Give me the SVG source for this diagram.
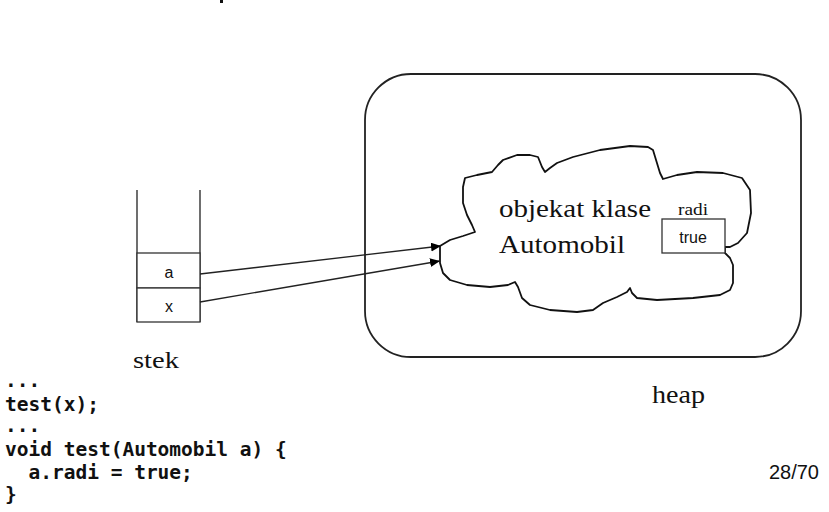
<svg xmlns="http://www.w3.org/2000/svg" width="829" height="512" viewBox="0 0 829 512">
<defs>
<style>
.serif{font-family:"Liberation Serif","Times New Roman",serif;fill:#111}
.sans{font-family:"Liberation Sans",Arial,sans-serif;fill:#111}
.code{font-family:"DejaVu Sans Mono","Liberation Mono",monospace;font-weight:bold;font-size:19.5px;fill:#111}
.ln{stroke:#222;stroke-width:1.3;fill:none}
.box{stroke:#333;stroke-width:1.3;fill:#fff}
</style>
<marker id="ah" markerUnits="userSpaceOnUse" markerWidth="11" markerHeight="10" refX="10" refY="4.5" orient="auto">
<path d="M0,0 L10,4.5 L0,9 z" fill="#000"/>
</marker>
</defs>
<rect width="829" height="512" fill="#fff"/>
<rect x="220" y="0" width="3" height="3" fill="#111"/>

<g id="heap">
<rect x="365" y="74" width="436" height="283" rx="46" ry="46" fill="none" stroke="#222" stroke-width="1.8"/>
<text class="serif" x="652" y="403" font-size="25" textLength="53" lengthAdjust="spacingAndGlyphs">heap</text>
</g>

<g id="object">
<path fill="#fff" stroke="#111" stroke-width="1.8" stroke-linejoin="round" d="M440,246 L450,240 L463,236 L475,232 L472,225 L467,215 L463,203 L463,187 L465,178 L477,175 L492,172 L498,165 L503,160 L517,155 L530,155 L538,157 L542,167 L545,172 L550,168 L557,163 L573,157 L600,150 L630,146 L648,147 L653,150 L660,173 L663,179 L677,175 L697,172 L723,173 L742,178 L750,190 L751,213 L747,233 L738,243 L730,247 L725,247 L725,253 L730,258 L733,265 L733,283 L730,290 L720,295 L693,298 L657,300 L637,298 L632,293 L630,288 L627,292 L617,297 L603,303 L593,310 L577,312 L550,310 L530,305 L522,298 L518,287 L515,282 L508,285 L490,287 L467,285 L450,280 L443,273 L440,263 L440,253 Z"/>
<text class="serif" x="499" y="217" font-size="26" textLength="152" lengthAdjust="spacingAndGlyphs">objekat klase</text>
<text class="serif" x="499" y="253" font-size="26" textLength="126" lengthAdjust="spacingAndGlyphs">Automobil</text>
</g>

<g id="field-radi">
<text class="serif" x="693" y="215" font-size="16" text-anchor="middle" textLength="30" lengthAdjust="spacingAndGlyphs">radi</text>
<rect class="box" x="662" y="219" width="63" height="34"/>
<text class="sans" x="693" y="243" font-size="16" text-anchor="middle">true</text>
</g>

<g id="stack">
<path class="ln" d="M137,190 V322 M200,190 V322"/>
<rect class="box" x="137" y="253" width="63" height="35"/>
<rect class="box" x="137" y="288" width="63" height="34"/>
<text class="sans" x="169" y="278" font-size="16" text-anchor="middle">a</text>
<text class="sans" x="169" y="312" font-size="16" text-anchor="middle">x</text>
<text class="serif" x="133" y="368" font-size="23" textLength="46" lengthAdjust="spacingAndGlyphs">stek</text>
</g>

<g id="connectors">
<line class="ln" x1="200" y1="274" x2="441" y2="246" marker-end="url(#ah)"/>
<line class="ln" x1="200" y1="302" x2="440" y2="261" marker-end="url(#ah)"/>
</g>

<g id="code">
<text class="code" x="5" y="387">...</text>
<text class="code" x="5" y="411">test(x);</text>
<text class="code" x="5" y="432">...</text>
<text class="code" x="5" y="456">void test(Automobil a) {</text>
<text class="code" x="5" y="479" xml:space="preserve">  a.radi = true;</text>
<text class="code" x="5" y="501">}</text>
</g>

<text class="sans" x="819" y="479" font-size="20" text-anchor="end">28/70</text>
</svg>
